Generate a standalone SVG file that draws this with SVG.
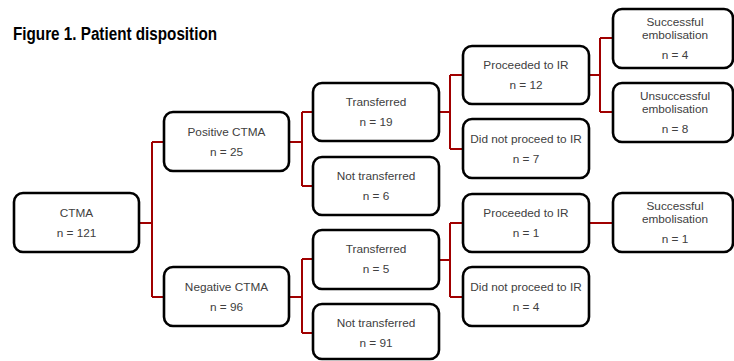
<svg xmlns="http://www.w3.org/2000/svg" width="734" height="361" viewBox="0 0 734 361">
<defs>
<style>
.box{fill:#fff;stroke:#000;stroke-width:2.6}
.t{font-family:"Liberation Sans",Arial,sans-serif;font-size:11.8px;fill:#404040;text-anchor:middle}
.title{font-family:"Liberation Sans",Arial,sans-serif;font-size:17.5px;font-weight:bold;fill:#000}
.c{fill:none;stroke:#A00000;stroke-width:2}
</style>
</defs>
<rect width="734" height="361" fill="#fff"/>
<text class="title" x="13" y="40" textLength="204" lengthAdjust="spacingAndGlyphs">Figure 1. Patient disposition</text>
<g id="connectors">
<path class="c" d="M139,223H152M152,142V297M152,142H164M152,297H164"/>
<path class="c" d="M289,142H302M302,112V186M302,112H313M302,186H313"/>
<path class="c" d="M289,297H302M302,259V333M302,259H313M302,333H313"/>
<path class="c" d="M439,112H450M450,75V149M450,75H463M450,149H463"/>
<path class="c" d="M439,260H450M450,223V297M450,223H463M450,297H463"/>
<path class="c" d="M589,75H600M600,38V112M600,38H613M600,112H613"/>
<path class="c" d="M589,223H613"/>
</g>
<g id="ctma"><rect class="box" x="14" y="193" width="125" height="59" rx="9"/><text class="t" x="76.5" y="217">CTMA</text><text class="t" x="76.5" y="237">n = 121</text></g>
<g id="pos"><rect class="box" x="164" y="112" width="125" height="59" rx="9"/><text class="t" x="226.5" y="136">Positive CTMA</text><text class="t" x="226.5" y="156">n = 25</text></g>
<g id="neg"><rect class="box" x="164" y="267" width="125" height="59" rx="9"/><text class="t" x="226.5" y="291">Negative CTMA</text><text class="t" x="226.5" y="311">n = 96</text></g>
<g id="pos-tr"><rect class="box" x="313" y="83" width="126" height="58" rx="9"/><text class="t" x="376" y="106">Transferred</text><text class="t" x="376" y="126">n = 19</text></g>
<g id="pos-nt"><rect class="box" x="313" y="157" width="126" height="58" rx="9"/><text class="t" x="376" y="180">Not transferred</text><text class="t" x="376" y="200">n = 6</text></g>
<g id="neg-tr"><rect class="box" x="313" y="230" width="126" height="59" rx="9"/><text class="t" x="376" y="253">Transferred</text><text class="t" x="376" y="273">n = 5</text></g>
<g id="neg-nt"><rect class="box" x="313" y="304" width="126" height="55" rx="9"/><text class="t" x="376" y="327">Not transferred</text><text class="t" x="376" y="347">n = 91</text></g>
<g id="pos-ir"><rect class="box" x="463" y="46" width="126" height="58" rx="9"/><text class="t" x="526" y="69">Proceeded to IR</text><text class="t" x="526" y="89">n = 12</text></g>
<g id="pos-noir"><rect class="box" x="463" y="119" width="126" height="59" rx="9"/><text class="t" x="526" y="143">Did not proceed to IR</text><text class="t" x="526" y="163">n = 7</text></g>
<g id="neg-ir"><rect class="box" x="463" y="194" width="126" height="58" rx="9"/><text class="t" x="526" y="217">Proceeded to IR</text><text class="t" x="526" y="237">n = 1</text></g>
<g id="neg-noir"><rect class="box" x="463" y="267" width="126" height="59" rx="9"/><text class="t" x="526" y="291">Did not proceed to IR</text><text class="t" x="526" y="311">n = 4</text></g>
<g id="pos-succ"><rect class="box" x="613" y="9" width="120" height="59" rx="9"/><text class="t" x="675" y="26">Successful</text><text class="t" x="675" y="39">embolisation</text><text class="t" x="675" y="59">n = 4</text></g>
<g id="pos-unsucc"><rect class="box" x="613" y="83" width="120" height="59" rx="9"/><text class="t" x="675" y="100">Unsuccessful</text><text class="t" x="675" y="113">embolisation</text><text class="t" x="675" y="133">n = 8</text></g>
<g id="neg-succ"><rect class="box" x="613" y="193" width="120" height="59" rx="9"/><text class="t" x="675" y="210">Successful</text><text class="t" x="675" y="223">embolisation</text><text class="t" x="675" y="243">n = 1</text></g>
</svg>
